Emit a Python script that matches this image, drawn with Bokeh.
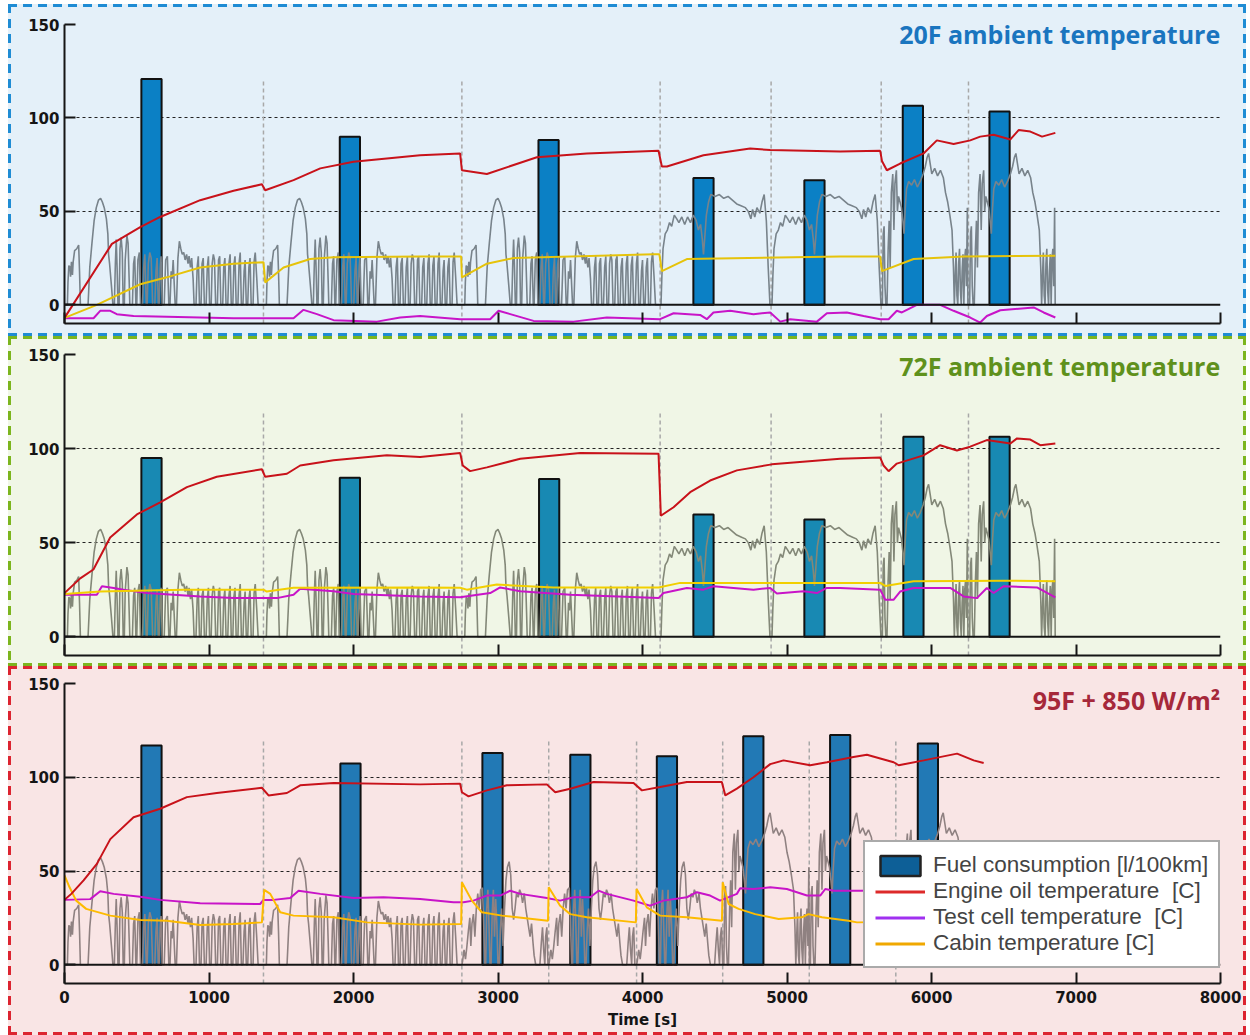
from bokeh.plotting import figure
from bokeh.models import (Range1d, FixedTicker, Span, Label, Legend, LegendItem, Column,
                          CustomLabelingPolicy)
from bokeh.embed import file_html
from bokeh.resources import INLINE

# ---------------- drive cycle speed traces (offset in s, speed in mph) ----------------
udds_t = [0, 20, 24, 30, 38, 42, 48, 55, 60, 70,
          85, 98, 104, 110, 163, 175, 190, 205, 220, 235,
          250, 262, 275, 290, 300, 305, 312, 325, 335, 345,
          352, 358, 364, 370, 378, 384, 392, 400, 406, 414,
          420, 432, 440, 448, 452, 470, 478, 486, 494, 500,
          508, 518, 526, 540, 548, 556, 566, 572, 580, 590,
          600, 610, 625, 633, 641, 649, 655, 662, 668, 676,
          690, 700, 712, 722, 730, 738, 745, 752, 760, 766,
          775, 785, 795, 805, 815, 825, 835, 845, 855, 862,
          872, 880, 890, 897, 910, 918, 926, 934, 945, 952,
          960, 968, 980, 988, 996, 1004, 1015, 1022, 1030, 1038,
          1046, 1058, 1066, 1074, 1082, 1095, 1102, 1110, 1118, 1130,
          1138, 1146, 1154, 1165, 1172, 1180, 1188, 1200, 1208, 1216,
          1224, 1235, 1243, 1250, 1258, 1268, 1276, 1284, 1292, 1305,
          1312, 1320, 1330, 1340, 1369]
udds_v = [0, 0, 12, 21, 20, 15, 23, 16, 23, 29,
          30, 32, 18, 0, 0, 20, 33, 45, 52, 56,
          57, 55, 52, 46, 38, 27, 22, 10, 0, 0,
          22, 35, 20, 0, 0, 30, 36, 28, 0, 0,
          24, 37, 33, 12, 0, 0, 22, 26, 0, 0,
          24, 28, 0, 0, 20, 27, 0, 0, 22, 28,
          25, 0, 0, 18, 25, 0, 0, 20, 26, 0,
          0, 24, 26, 0, 0, 18, 14, 24, 10, 0,
          0, 25, 34, 30, 27, 28, 24, 27, 22, 26,
          20, 25, 14, 0, 0, 20, 26, 0, 0, 22,
          25, 0, 0, 20, 26, 0, 0, 22, 27, 24,
          0, 0, 24, 26, 0, 0, 20, 25, 0, 0,
          22, 27, 0, 0, 21, 26, 0, 0, 22, 28,
          0, 0, 18, 24, 0, 0, 20, 25, 0, 0,
          23, 28, 15, 0, 0]

hwfet_t = [0, 6, 12, 20, 35, 50, 65, 80, 98, 115,
           130, 150, 170, 190, 210, 230, 250, 265, 280, 292,
           300, 308, 320, 335, 351, 380, 410, 440, 470, 500,
           530, 560, 590, 610, 628, 640, 655, 670, 690, 705,
           720, 735, 748, 760]
hwfet_v = [0, 0, 15, 30, 38, 40, 44, 42, 48, 46,
           44, 47, 43, 47, 44, 48, 45, 40, 43, 35,
           27, 35, 48, 55, 59, 58, 59, 57, 58, 56,
           54, 53, 52, 50, 46, 51, 47, 52, 49, 55,
           59, 45, 20, 0]

us06_t = [0, 8, 14, 20, 26, 32, 40, 48, 55, 62,
          70, 80, 88, 95, 105, 112, 120, 130, 140, 150,
          158, 165, 175, 190, 210, 230, 250, 270, 290, 305,
          318, 328, 338, 350, 370, 390, 410, 430, 445, 460,
          475, 490, 500, 506, 512, 518, 524, 530, 536, 542,
          548, 554, 560, 566, 572, 578, 584, 590, 596, 600]
us06_v = [0, 0, 38, 42, 10, 0, 0, 30, 45, 20,
          60, 70, 40, 65, 72, 50, 58, 55, 52, 45,
          38, 50, 62, 66, 64, 67, 63, 66, 70, 74,
          79, 81, 76, 70, 73, 69, 72, 68, 60, 55,
          48, 40, 20, 0, 15, 28, 5, 0, 22, 30,
          8, 0, 18, 27, 0, 25, 30, 10, 52, 0]

sc03_t = [0, 5, 15, 25, 35, 45, 55, 62, 70, 80,
          90, 100, 110, 120, 130, 142, 150, 158, 165, 172,
          180, 188, 195, 202, 210, 218, 226, 234, 242, 250,
          258, 266, 275, 285, 295, 305, 315, 327, 338, 348,
          358, 368, 378, 390, 400, 410, 420, 432, 442, 452,
          462, 472, 482, 492, 500, 511, 540, 550, 558, 566,
          574, 580, 588, 596]
sc03_v = [0, 2, 8, 3, 10, 18, 25, 10, 22, 27,
          15, 30, 38, 30, 40, 41, 25, 0, 0, 30,
          40, 20, 0, 0, 28, 40, 15, 35, 22, 0,
          0, 18, 30, 10, 30, 45, 52, 55, 48, 30,
          24, 30, 38, 36, 40, 38, 33, 38, 30, 25,
          20, 15, 22, 12, 5, 0, 0, 12, 20, 8,
          0, 15, 20, 0]

cycles = {"udds": (udds_t, udds_v), "hwfet": (hwfet_t, hwfet_v),
          "us06": (us06_t, us06_v), "sc03": (sc03_t, sc03_v)}

# ---------------- test sequences ----------------
trip_starts_ab = [0, 1377, 2750, 4122, 4890, 5652, 6256]
trip_cycles_ab = ["udds", "udds", "udds", "hwfet", "hwfet", "us06", "us06"]
trip_starts_c = [0, 1377, 2750, 3351, 3959, 4555, 5154, 5753]
trip_cycles_c = ["udds", "udds", "sc03", "sc03", "sc03", "us06", "us06", "us06"]

# ---------------- fuel consumption bars ----------------
fuel_x_20 = [602, 1975, 3350, 4422, 5190, 5871, 6471]
fuel_20 = [120.8, 90, 88.2, 67.9, 66.7, 106.5, 103.4]
fuel_x_72 = [602, 1975, 3354, 4422, 5190, 5875, 6471]
fuel_72 = [95, 84.5, 83.8, 65, 62.3, 106.3, 106.3]
fuel_x_95 = [602, 1979, 2962, 3570, 4169, 4767, 5368, 5975]
fuel_95 = [117, 107.4, 113, 112, 111.2, 121.9, 122.6, 118]

# ---------------- temperatures 20F ----------------
oil_20_t = [0, 328, 524, 662, 939, 1170, 1366, 1389, 1585, 1770, 2000, 2461, 2738, 2750,
            2923, 3269, 3615, 4111, 4134, 4169, 4422, 4745, 4884, 5368, 5645, 5657, 5691,
            5783, 5945, 6037, 6153, 6268, 6337, 6430, 6546, 6603, 6684, 6765, 6857]
oil_20 = [-7, 32.6, 41.6, 47, 56, 61, 64.5, 61.3, 66.7, 73, 76.5, 80, 81, 72,
          70, 79, 81, 82.4, 74, 74, 80, 83.7, 82.8, 82, 82.4, 77, 72,
          75.6, 81, 88, 86, 88, 90, 91, 88.5, 93.5, 92.7, 90, 92]
cab_20_t = [0, 224, 524, 708, 939, 1170, 1377, 1389, 1516, 1700, 1862, 2461, 2745, 2750,
            2923, 3108, 4077, 4117, 4134, 4307, 5368, 5645, 5657, 5876, 6222, 6857]
cab_20 = [-7, 0, 11, 14.7, 20, 22, 22.8, 12, 20, 24.5, 25.4, 25.8, 25.8, 14.7,
          22, 25, 27, 27, 18, 24.5, 25.8, 25.8, 18, 24.5, 25.8, 26.3]
cell_20_t = [0, 201, 247, 317, 362, 478, 1170, 1585, 1654, 1747, 1862, 2162, 2323, 2461,
             2738, 2946, 3004, 3085, 3246, 3523, 3753, 4122, 4215, 4399, 4445, 4491, 4607,
             4768, 4884, 4953, 5022, 5207, 5276, 5414, 5530, 5645, 5703, 5760, 5795, 5899,
             6060, 6153, 6268, 6337, 6383, 6476, 6707, 6776, 6857]
cell_20 = [-7.2, -7.2, -3.2, -3.2, -5, -6, -7.2, -7.2, -2.7, -5, -8.2, -9, -6.8, -6,
           -7.7, -7.7, -3.2, -5, -8.6, -9, -6.8, -7.7, -4.5, -5.4, -7.7, -4.1, -3.2,
           -5, -4.1, -9, -7.7, -9, -4.5, -4.1, -6, -7.7, -7.7, -3.2, -4.1, 0,
           0, -3.2, -6.8, -9.5, -6, -2.9, -1.4, -4.1, -6.8]

# ---------------- temperatures 72F ----------------
oil_72_t = [0, 109, 200, 316, 501, 662, 847, 1054, 1366, 1389, 1539, 1631, 1862, 2231, 2461,
            2738, 2756, 2807, 2923, 3154, 3569, 4111, 4127, 4215, 4330, 4468, 4653, 4895,
            5368, 5645, 5668, 5703, 5760, 5945, 6060, 6176, 6268, 6383, 6546, 6592, 6684,
            6753, 6857]
oil_72 = [23.2, 31, 35.7, 52.7, 65, 71.4, 79.5, 85, 89, 85, 86.6, 91, 93.8, 96.4, 95.5,
          97.7, 91, 88, 90, 94.6, 97.7, 97.3, 64.3, 68.8, 76.8, 83, 88.4, 91.6,
          94.6, 95.2, 91, 88, 92, 96.4, 101.8, 99, 101, 104.5, 102.7, 105.4, 104.8,
          101.8, 102.7]
cab_72_t = [0, 247, 824, 1377, 1400, 1585, 2461, 2738, 2784, 2992, 3384, 4111, 4261,
            5645, 5680, 5876, 6499, 6857]
cab_72 = [22.7, 24, 25, 25, 24, 26, 26.2, 26, 25, 27.7, 26.2, 26.2, 28.6,
          28.6, 27, 29.5, 29.8, 29.5]
cell_72_t = [0, 224, 259, 340, 409, 570, 939, 1170, 1470, 1585, 1631, 1862, 2000, 2461,
             2738, 2946, 3015, 3154, 3500, 4111, 4145, 4307, 4422, 4491, 4768, 4884, 4930,
             5115, 5207, 5276, 5368, 5645, 5680, 5737, 5783, 5876, 6130, 6222, 6314, 6383,
             6430, 6499, 6730, 6857]
cell_72 = [22.3, 22.3, 26.8, 25.9, 25, 23.2, 21.4, 20.5, 20.5, 22.3, 25.5, 24.1, 22.7, 21.4,
           21, 23.2, 26.2, 24.1, 22.3, 20.5, 23.2, 25.9, 25, 26.8, 25, 25.9, 22.9,
           24.1, 23.2, 25.9, 25.9, 25, 19.6, 19.6, 24, 25.9, 25.9, 21.4, 20.5, 25.9,
           23.2, 26.8, 26.2, 20.9]

# ---------------- temperatures 95F + solar ----------------
oil_95_t = [0, 47, 132, 224, 317, 478, 662, 847, 1054, 1366, 1412, 1539, 1631, 1862, 2461,
            2738, 2750, 2796, 2923, 3061, 3338, 3396, 3500, 3661, 3938, 3996, 4122, 4307,
            4549, 4573, 4653, 4768, 4884, 4976, 5161, 5276, 5460, 5553, 5738, 5773, 5946,
            6177, 6292, 6361]
oil_95 = [34.6, 37.8, 45, 53.8, 67, 78.7, 83.2, 89.4, 91.6, 94.4, 90.3, 91.6, 95.7, 96.9, 96.2,
          96.6, 92, 89.8, 93, 95.7, 96.2, 92, 93.9, 97.5, 96.9, 93, 94.8, 97.5,
          97.5, 90.3, 93.9, 100, 107, 109, 106.4, 108, 110.8, 112, 108, 106.4, 109,
          112.6, 109, 107.6]
cab_95_t = [0, 35, 81, 150, 317, 524, 708, 939, 1170, 1366, 1382, 1424, 1493, 1585, 1862,
            2093, 2461, 2745, 2750, 2819, 2888, 3027, 3346, 3351, 3430, 3500, 3615, 3954,
            3959, 4030, 4122, 4307, 4550, 4555, 4596, 4665, 4780, 4942, 5103, 5149, 5242,
            5426, 5484, 5900, 6360]
cab_95 = [47.6, 41.3, 34.2, 29.8, 26.2, 23.9, 23.5, 21.2, 21.7, 22.6, 39.9, 37.8, 28, 26.2, 25.3,
          22.6, 21.4, 21.7, 44, 34.2, 28, 26.2, 23.5, 41.3, 31.5, 27, 25.3, 22.6,
          40.4, 30.6, 26.2, 25.3, 23.5, 44, 32.4, 29.8, 27, 24.4, 25.3, 27, 25.3,
          23.5, 22.6, 23, 22.5]
cell_95_t = [0, 178, 247, 340, 524, 662, 939, 1354, 1377, 1447, 1562, 1620, 1770, 2000, 2208,
             2461, 2692, 2761, 2830, 2923, 3015, 3085, 3154, 3338, 3430, 3523, 3638, 3696,
             3753, 3938, 4053, 4145, 4307, 4376, 4468, 4537, 4653, 4676, 4768, 4884, 4999,
             5138, 5230, 5265, 5322, 5506, 5900, 6360]
cell_95 = [34.6, 35, 39.2, 37.8, 36.3, 34.6, 32.8, 32.4, 34.6, 34.6, 35.6, 39.5, 37.8, 35.6, 36,
           35.1, 33.3, 33.3, 34.2, 36.9, 36.9, 39.5, 37.8, 35.6, 34.2, 36, 36, 39.5,
           37.8, 34.2, 31.5, 34.2, 36, 38.7, 36.9, 34.2, 37.8, 40.8, 40.4, 41.3, 40.4,
           36.9, 36.9, 40.4, 39.5, 39.5, 40, 40]

x_ticks = [0, 1000, 2000, 3000, 4000, 5000, 6000, 7000, 8000]
y_ticks = [0, 50, 100, 150]
NAN = float("nan")


def compose(starts, names):
    tt, vv = [], []
    for s, n in zip(starts, names):
        ct, cv = cycles[n]
        tt += [s + a for a in ct]
        vv += list(cv)
    return tt, vv


def make_panel(height, mb_top, mb_bottom, bg, title, title_color, title_y,
               starts, names, bar_x, bar_top, bar_color, speed_color,
               oil_t, oil_v, cab_t, cab_v, cab_color, cell_t, cell_v, show_x):
    p = figure(width=1232, height=height, x_range=Range1d(0, 8000), y_range=Range1d(-10, 150),
               output_backend="svg", toolbar_location=None,
               min_border_left=53, min_border_right=23, min_border_top=mb_top,
               min_border_bottom=mb_bottom)
    p.background_fill_color = bg
    p.border_fill_color = bg
    p.outline_line_color = None
    p.xgrid.visible = False
    p.ygrid.ticker = FixedTicker(ticks=[50, 100, 150])
    p.ygrid.grid_line_color = "#222222"
    p.ygrid.grid_line_dash = "3 3"
    p.ygrid.grid_line_width = 1
    p.xaxis.ticker = FixedTicker(ticks=x_ticks)
    p.yaxis.ticker = FixedTicker(ticks=y_ticks)
    for ax in list(p.xaxis) + list(p.yaxis):
        ax.axis_line_width = 2
        ax.axis_line_color = "#151515"
        ax.major_tick_line_width = 2
        ax.major_tick_line_color = "#151515"
        ax.major_tick_in = 11
        ax.major_tick_out = 0
        ax.minor_tick_in = 0
        ax.minor_tick_out = 0
        ax.major_label_text_font = "DejaVu Sans"
        ax.major_label_text_font_style = "bold"
        ax.major_label_text_font_size = "15px"
        ax.major_label_text_color = "#151515"
    p.yaxis.major_label_standoff = 5
    if show_x:
        p.xaxis.major_label_standoff = 7
        p.xaxis.axis_label = "Time [s]"
        p.xaxis.axis_label_text_font = "DejaVu Sans"
        p.xaxis.axis_label_text_font_style = "bold"
        p.xaxis.axis_label_text_font_size = "15px"
        p.xaxis.axis_label_text_color = "#151515"
        p.xaxis.axis_label_standoff = 5
    else:
        # ticks only, no tick labels on the upper panels
        p.xaxis.major_label_policy = CustomLabelingPolicy(
            code="const ks = []; for (const i of indices) ks.push(i); "
                 "for (const i of ks) indices.unset(i); return indices;")
        p.xaxis.major_label_text_font_size = "1px"
        p.xaxis.major_label_standoff = 0

    bounds = starts[1:]
    p.segment(x0=bounds, y0=[-10] * len(bounds), x1=bounds, y1=[120] * len(bounds),
              line_color="#a8a8a8", line_width=1.5, line_dash="4 3")
    p.vbar(x=bar_x, top=bar_top, bottom=0, width=140, fill_color=bar_color,
           line_color="#111111", line_width=2)
    st, sv = compose(starts, names)
    p.line(st, sv, line_color=speed_color, line_width=1.6)
    p.line(cell_t, cell_v, line_color="#c814c8", line_width=2)
    p.line(cab_t, cab_v, line_color=cab_color, line_width=2)
    p.line(oil_t, oil_v, line_color="#c8121a", line_width=2)
    p.add_layout(Span(location=0, dimension="width", line_color="#151515", line_width=2))
    p.add_layout(Label(x=7998, y=title_y, text=title, text_align="right",
                       text_baseline="middle", text_font="Open Sans",
                       text_font_style="bold", text_font_size="25px",
                       text_color=title_color))
    return p


p1 = make_panel(326, 17, 10, "#e4f0f9", "20F ambient temperature", "#1a75bf", 145,
                trip_starts_ab, trip_cycles_ab, fuel_x_20, fuel_20, "#0b80c5", "#78838b",
                oil_20_t, oil_20, cab_20_t, cab_20, "#e6c30a", cell_20_t, cell_20, False)
p2 = make_panel(324, 15, 8, "#f0f6e6", "72F ambient temperature", "#5f911c", 144,
                trip_starts_ab, trip_cycles_ab, fuel_x_72, fuel_72, "#1889b3", "#838878",
                oil_72_t, oil_72, cab_72_t, cab_72, "#f2cf00", cell_72_t, cell_72, False)
p3 = make_panel(363, 14, 49, "#f9e5e5", "95F + 850 W/m²", "#a6283a", 141,
                trip_starts_c, trip_cycles_c, fuel_x_95, fuel_95, "#2279b5", "#8f8181",
                oil_95_t, oil_95, cab_95_t, cab_95, "#fdbb00", cell_95_t, cell_95, True)

# legend swatches (renderers hold no visible marks; they carry the legend colours)
lg_bar = p3.vbar(x=[NAN], top=[NAN], width=1, fill_color="#0d5f97", line_color="#222222",
                 line_width=2.5)
lg_oil = p3.line(x=[NAN], y=[NAN], line_color="#dd2a2a", line_width=3)
lg_cell = p3.line(x=[NAN], y=[NAN], line_color="#a030f0", line_width=3)
lg_cab = p3.line(x=[NAN], y=[NAN], line_color="#f0a800", line_width=3)
legend = Legend(items=[LegendItem(label="Fuel consumption [l/100km]", renderers=[lg_bar]),
                       LegendItem(label="Engine oil temperature  [C]", renderers=[lg_oil]),
                       LegendItem(label="Test cell temperature  [C]", renderers=[lg_cell]),
                       LegendItem(label="Cabin temperature [C]", renderers=[lg_cab])],
                location=(799, 15), label_text_font="Liberation Sans",
                label_text_font_size="22.5px", label_text_color="#444444",
                glyph_width=50, glyph_height=25, label_height=25, label_width=274,
                spacing=0, padding=10, label_standoff=8, margin=0,
                border_line_color="#555555", border_line_width=2,
                background_fill_color="white", background_fill_alpha=1)
p3.add_layout(legend)


def box_styles(color, bg):
    g_h = f"linear-gradient(90deg, {color} 63%, transparent 63%)"
    g_v = f"linear-gradient(180deg, {color} 63%, transparent 63%)"
    return {
        "border": "3px solid transparent",
        "background-color": bg,
        "background-origin": "border-box",
        "background-clip": "border-box",
        "background-image": ", ".join([g_h, g_h, g_v, g_v]),
        "background-position": "left top, left bottom, left top, right top",
        "background-size": "15px 3px, 15px 3px, 3px 15px, 3px 15px",
        "background-repeat": "repeat-x, repeat-x, repeat-y, repeat-y",
    }


box1 = Column(children=[p1], margin=(4, 0, 0, 8), styles=box_styles("#1f8cd4", "#e4f0f9"))
box2 = Column(children=[p2], margin=(0, 0, 0, 8), styles=box_styles("#7cb51e", "#f0f6e6"))
box3 = Column(children=[p3], margin=(0, 0, 0, 8), styles=box_styles("#dc2430", "#f9e5e5"))
root = Column(children=[box1, box2, box3])

open("out.html", "w").write(file_html(root, INLINE))
